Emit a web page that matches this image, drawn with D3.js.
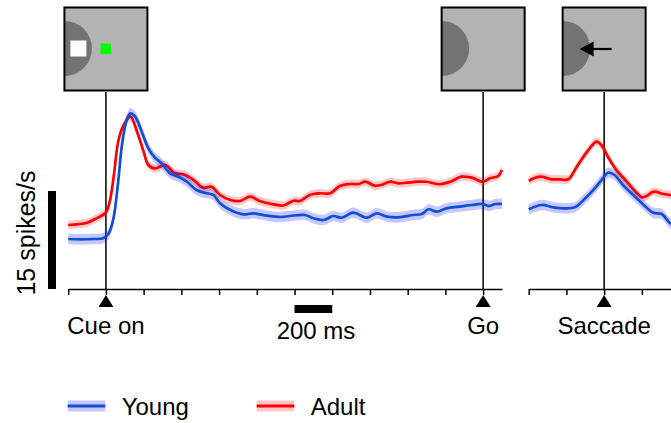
<!DOCTYPE html>
<html><head><meta charset="utf-8">
<script src="https://cdn.jsdelivr.net/npm/d3@7"></script>
<style>body{margin:0;background:#fff}svg{display:block}text{font-family:"Liberation Sans",Arial,sans-serif;fill:#000}</style>
</head><body><svg id="c" width="671" height="423"></svg>
<script>
// Left panel: aligned to cue onset (ms); Go at 2000 ms
const cueTime = [-200,-100,-50,0,20,40,65,90,130,165,200,225,260,315,365,410,465,515,560,605,660,710,765,815,890,940,995,1030,1080,1135,1190,1240,1295,1340,1375,1425,1460,1505,1550,1595,1650,1700,1770,1825,1885,1940,2000,2035,2080,2100];
const adultCue = [9.8,10.15,10.82,11.74,13.36,16.94,22.55,24.84,26.37,24.08,21.02,18.98,18.47,18.98,17.71,17.56,16.68,15.51,15.66,14.39,13.62,13.47,14.13,13.47,12.96,12.78,13.51,13.47,14.39,14.65,14.65,15.76,16.07,16.07,16.42,15.81,15.92,16.42,16.18,16.27,16.42,16.42,16.03,16.42,17.19,17.04,16.42,16.94,17.3,18.21];
const youngTime = [-200,-135,-65,-15,15,40,65,85,110,130,155,190,225,260,295,340,385,430,480,535,570,605,660,730,780,855,925,975,1055,1100,1155,1205,1250,1310,1385,1435,1490,1550,1630,1675,1710,1755,1805,1875,1940,1995,2030,2065,2100];
const youngCue = [7.65,7.61,7.65,7.76,8.53,10.82,16.42,22.04,25.87,26.89,26.37,24.08,21.54,20.1,19.24,17.71,17.19,16.42,15.15,14.65,14.39,13.12,12.09,11.43,11.59,11.22,11.02,11.17,11.33,10.82,10.56,11.17,10.91,11.68,10.91,11.59,11.07,10.97,11.33,11.48,12.2,11.83,12.35,12.6,12.86,13.01,12.7,13.01,13.01];
// Right panel: aligned to saccade onset (ms)
const sacTimeAdult = [-400,-340,-280,-235,-190,-145,-90,-40,-15,20,65,120,175,200,225,260,315,350,400];
const adultSac = [16.58,17.19,16.79,16.79,16.79,18.72,21.02,22.55,22.04,20.25,18.21,16.42,14.65,14.04,14.23,14.89,14.54,14.39,14.3];
const sacTimeYoung = [-400,-330,-270,-215,-155,-100,-50,0,20,55,100,155,210,260,305,350,400];
const youngSac = [12.2,12.86,12.5,12.35,12.5,13.88,15.41,17.19,17.8,17.45,15.92,14.39,12.86,11.68,11.48,10.06,9.3];
const semYoung = 0.8, semAdult = 0.65;
const leftTicks = [-200,0,200,400,600,800,1000,1200,1400,1600,1800,2000];
const rightTicks = [-400,-200,0,200];
const eventLabels = ["Cue on","Go","Saccade"];
const seriesNames = ["Young","Adult"];
const scaleBarRate = 15, scaleBarMs = [1000,1200];

const svg = d3.select("#c");
const y = d3.scaleLinear().domain([0,30]).range([289,93]);
const xL = d3.scaleLinear().domain([-200,2100]).range([68.2,502]);
const xR = d3.scaleLinear().domain([-400,400]).range([528.7,679.6]);
const colY = "#1150d2", colA = "#ff0000", bandY = "#0000ff", bandA = "#ff0000";

function drawSeries(x, ts, vs, col, bandCol, sem){
  const data = ts.map((t,i)=>({t, v:vs[i]}));
  const area = d3.area().x(d=>x(d.t)).y0(d=>y(d.v-sem)).y1(d=>y(d.v+sem)).curve(d3.curveCatmullRom);
  const line = d3.line().x(d=>x(d.t)).y(d=>y(d.v)).curve(d3.curveCatmullRom);
  svg.append("path").attr("d",area(data)).attr("fill",bandCol).attr("fill-opacity",0.22);
  svg.append("path").attr("d",line(data)).attr("fill","none").attr("stroke",col).attr("stroke-width",2.7);
}
// event lines
const events = [[xL,0],[xL,2000],[xR,0]];
events.forEach(([x,t])=>{
  svg.append("line").attr("x1",x(t)).attr("x2",x(t)).attr("y1",92).attr("y2",289).attr("stroke","#000").attr("stroke-width",1.5);
});
drawSeries(xL, cueTime, adultCue, colA, bandA, semAdult);
drawSeries(xL, youngTime, youngCue, colY, bandY, semYoung);
drawSeries(xR, sacTimeAdult, adultSac, colA, bandA, semAdult);
drawSeries(xR, sacTimeYoung, youngSac, colY, bandY, semYoung);

// axes
function axis(x, ticks){
  const g = svg.append("g").attr("transform","translate(0,289)")
    .call(d3.axisBottom(x).tickValues(ticks).tickSize(6).tickSizeOuter(0).tickFormat(""));
  g.select(".domain").attr("stroke-width",1.5);
  g.selectAll(".tick line").attr("stroke-width",1.5);
  return g;
}
axis(xL, leftTicks);
axis(xR, rightTicks);

// triangles + labels
events.forEach(([x,t],i)=>{
  svg.append("path").attr("d","M0,-6L7.5,6L-7.5,6Z").attr("transform",`translate(${x(t)},301)`).attr("fill","#000");
  svg.append("text").attr("x",x(t)).attr("y",334).attr("text-anchor","middle").attr("font-size",24).text(eventLabels[i]);
});

// stimulus boxes
events.forEach(([x,t],i)=>{
  const cx = x(t), bx = cx-41.5, by = 7.5, s = 83;
  const g = svg.append("g");
  const cid = "clip"+i;
  g.append("clipPath").attr("id",cid).append("rect").attr("x",bx).attr("y",by).attr("width",s).attr("height",s);
  g.append("rect").attr("x",bx).attr("y",by).attr("width",s).attr("height",s).attr("fill","#b3b3b3");
  g.append("circle").attr("cx",bx).attr("cy",by+41).attr("r",27.5).attr("fill","#737373").attr("clip-path",`url(#${cid})`);
  if(i===0){
    g.append("rect").attr("x",bx+6).attr("y",by+33).attr("width",16).attr("height",16).attr("fill","#fdfdfd");
    g.append("rect").attr("x",bx+36).attr("y",by+36).attr("width",10.5).attr("height",10.5).attr("fill","#00ff00");
  }
  if(i===2){
    g.append("line").attr("x1",bx+29).attr("x2",bx+49).attr("y1",by+41.5).attr("y2",by+41.5).attr("stroke","#000").attr("stroke-width",2.2);
    g.append("path").attr("d",`M${bx+17},${by+41.5}L${bx+31},${by+34}L${bx+31},${by+49}Z`).attr("fill","#000");
  }
  g.append("rect").attr("x",bx).attr("y",by).attr("width",s).attr("height",s).attr("fill","none").attr("stroke","#000").attr("stroke-width",2);
});

// scale bars
svg.append("rect").attr("x",48).attr("y",y(scaleBarRate)).attr("width",8).attr("height",y(0)-y(scaleBarRate)).attr("fill","#000");
svg.append("text").attr("transform",`translate(35,${233}) rotate(-90)`).attr("text-anchor","middle").attr("font-size",25).text(scaleBarRate+" spikes/s");
svg.append("rect").attr("x",xL(scaleBarMs[0])).attr("y",305).attr("width",xL(scaleBarMs[1])-xL(scaleBarMs[0])).attr("height",8).attr("fill","#000");
svg.append("text").attr("x",316).attr("y",339).attr("text-anchor","middle").attr("font-size",24).text((scaleBarMs[1]-scaleBarMs[0])+" ms");

// legend
const leg = [[67.7,colY,bandY],[256.7,colA,bandA]];
leg.forEach(([lx,c,bc],i)=>{
  svg.append("rect").attr("x",lx).attr("y",400.5).attr("width",37.6).attr("height",11).attr("fill",bc).attr("fill-opacity",0.22);
  svg.append("line").attr("x1",lx).attr("x2",lx+37.6).attr("y1",406).attr("y2",406).attr("stroke",c).attr("stroke-width",2.8);
  svg.append("text").attr("x",lx+54).attr("y",415).attr("font-size",24).text(seriesNames[i]);
});
</script></body></html>
